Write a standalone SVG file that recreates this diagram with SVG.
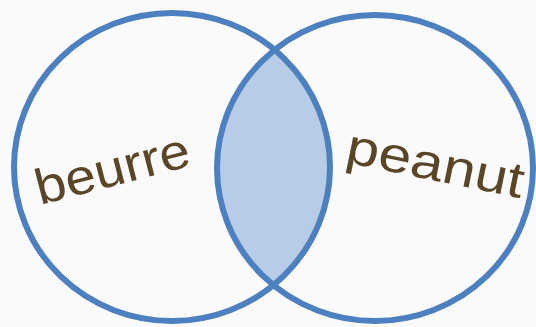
<svg xmlns="http://www.w3.org/2000/svg" width="536" height="327" viewBox="0 0 536 327">
<defs>
<style>
.ring{fill:none;stroke:#4d80c0;stroke-width:6}
.lbl{font-family:"Liberation Sans","DejaVu Sans",sans-serif;font-size:50px;fill:#5a4526}
</style>
<clipPath id="clipR"><ellipse cx="375" cy="168" rx="158" ry="153"/></clipPath>
</defs>
<rect width="536" height="327" fill="#fafafa"/>
<g id="overlap">
<ellipse cx="172" cy="167" rx="158" ry="154" fill="#b8cce5" clip-path="url(#clipR)"/>
</g>
<g id="beurre">
<ellipse class="ring" cx="172" cy="167" rx="158" ry="154"/>
<text class="lbl" x="0" y="0" textLength="158" lengthAdjust="spacingAndGlyphs" transform="translate(40,205) rotate(-14.5)">beurre</text>
</g>
<g id="peanut">
<ellipse class="ring" cx="375" cy="168" rx="158" ry="153"/>
<text class="lbl" x="0" y="0" textLength="180" lengthAdjust="spacingAndGlyphs" transform="translate(344,162) rotate(11.6)">peanut</text>
</g>
</svg>
